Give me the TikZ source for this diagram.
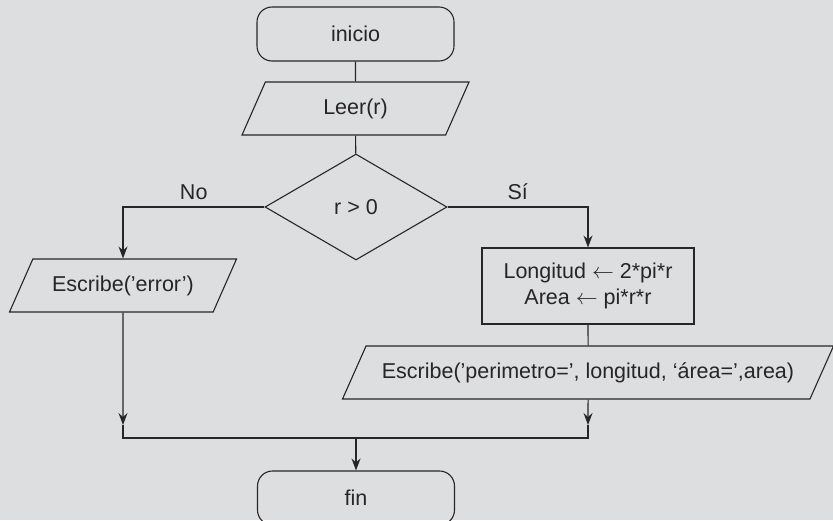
\documentclass[tikz,border=0pt]{standalone}
\usepackage{fontspec}
\setmainfont{Liberation Sans}
\usetikzlibrary{arrows.meta}
\usetikzlibrary{shapes.geometric}
\definecolor{fondo}{RGB}{221,222,224}
\definecolor{tinta}{RGB}{40,37,38}

\begin{document}
\begin{tikzpicture}[x=0.5pt, y=-0.5pt, line width=0.55pt, color=tinta,
        every node/.style={font=\fontsize{10.75}{13}\selectfont},
        terminal/.style={draw, rounded corners=7.5pt, minimum width=98.5pt, minimum height=27pt},
        datos/.style={draw, trapezium, trapezium left angle=55, trapezium right angle=125,
            trapezium stretches body, minimum height=26.5pt},
        proceso/.style={draw, rectangle, align=center, minimum width=106pt, minimum height=38pt},
        decision/.style={draw, diamond, inner sep=0pt, minimum width=91pt, minimum height=53pt},
        flecha/.style={-{Stealth[length=6pt, width=4.5pt, inset=2pt]}}]
        \useasboundingbox (0,0) rectangle (833,520);
        \fill[fondo] (0,0) rectangle (833,520);

        \node[terminal] (inicio) at (355.5,34) {inicio};
        \node[datos, minimum width=113.5pt] (leer) at (355.5,108.5) {Leer(r)};
        \node[decision] (cond) at (356,207) {r > 0};
        \node[datos, minimum width=113.5pt] (err) at (123,285.5) {Escribe('error')};
        \node[proceso] (calc) at (588,286) {Longitud $\leftarrow$ 2*pi*r\\Area $\leftarrow$ pi*r*r};
        \node[datos, minimum width=245.5pt] (sal) at (588,372.5) {Escribe('perimetro=', longitud, `área=',area)};
        \node[terminal] (fin) at (356,498) {fin};

        % puntos de union
        \coordinate (pi) at (123,425);
        \coordinate (pd) at (588,425);
        \coordinate (bi) at (123,438);
        \coordinate (bd) at (588,438);
        \coordinate (bc) at (356,438);

        \draw (inicio) -- (leer);
        \draw (leer) -- (cond);
        \draw[flecha] (cond.west) -| node[pos=0.25, above] {No} (err.north);
        \draw[flecha] (cond.east) -| node[pos=0.25, above] {Sí} (calc.north);
        \draw (calc) -- (sal);
        \draw[flecha] (err.south) -- (pi);
        \draw[flecha] (sal.south) -- (pd);
        \draw (pi) -- (bi) -- (bd) -- (pd);
        \draw[flecha] (bc) -- (fin);

    \end{tikzpicture}
\end{document}
